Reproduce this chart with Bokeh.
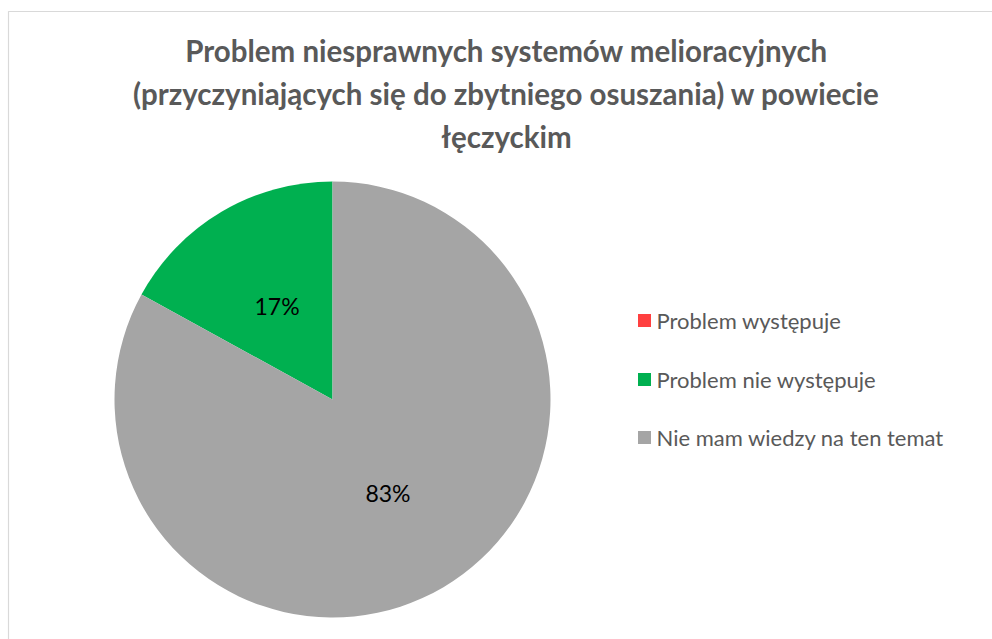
import numpy as np
from bokeh.plotting import figure
from bokeh.models import Range1d
from bokeh.core.properties import value
from bokeh.embed import file_html
from bokeh.resources import INLINE

# ---- data ----
categories = ["Problem występuje", "Problem nie występuje", "Nie mam wiedzy na ten temat"]
percents = [0, 17, 83]
colors = ["#ff4040", "#00b050", "#a5a5a5"]
title_lines = [
    "Problem niesprawnych systemów melioracyjnych",
    "(przyczyniających się do zbytniego osuszania) w powiecie",
    "łęczyckim",
]

W, H = 992, 639
p = figure(width=W, height=H, output_backend="svg", toolbar_location=None,
           x_range=Range1d(0, W), y_range=Range1d(0, H), min_border=0)
p.axis.visible = False
p.grid.visible = False
p.outline_line_color = None
p.background_fill_color = "white"

def Y(y):
    return H - y

# chart frame (left and top edges visible)
p.line(x=[8, 8, 1100], y=[Y(700), Y(11), Y(11)], line_color="#d9d9d9", line_width=1.2)

# title
for i, t in enumerate(title_lines):
    p.text(x=[506], y=[Y(50 + 43 * i)], text=[t], text_align="center", text_baseline="middle",
           text_font=value("Lato"), text_font_style="bold", text_font_size="29.5px",
           text_color="#595959")

# pie
cx, cy, r = 332, Y(399), 218
vals = np.array(percents, dtype=float)
frac = vals / vals.sum()
cum = np.concatenate([[0], np.cumsum(frac)])
start = np.pi / 2 + 2 * np.pi * cum[:-1]
end = np.pi / 2 + 2 * np.pi * cum[1:]
for s, e, c, v in zip(start, end, colors, percents):
    if v <= 0:
        continue
    p.wedge(x=cx, y=cy, radius=r, start_angle=s, end_angle=e, direction="anticlock",
            fill_color=c, line_color=None)
    mid = (s + e) / 2
    p.text(x=[cx + 0.5 * r * np.cos(mid)], y=[cy + 0.5 * r * np.sin(mid)], text=[f"{v}%"],
           text_align="center", text_baseline="middle", text_font=value("Lato"),
           text_font_size="23px", text_color="#000000")

# legend
leg_y = [320, 379, 437]
for cat, c, ly in zip(categories, colors, leg_y):
    p.rect(x=[644], y=[Y(ly)], width=13, height=13, fill_color=c, line_color=None)
    p.text(x=[656], y=[Y(ly)], text=[cat], text_align="left", text_baseline="middle",
           text_font=value("Lato"), text_font_size="22px", text_color="#595959")

open("out.html", "w").write(file_html(p, INLINE))
